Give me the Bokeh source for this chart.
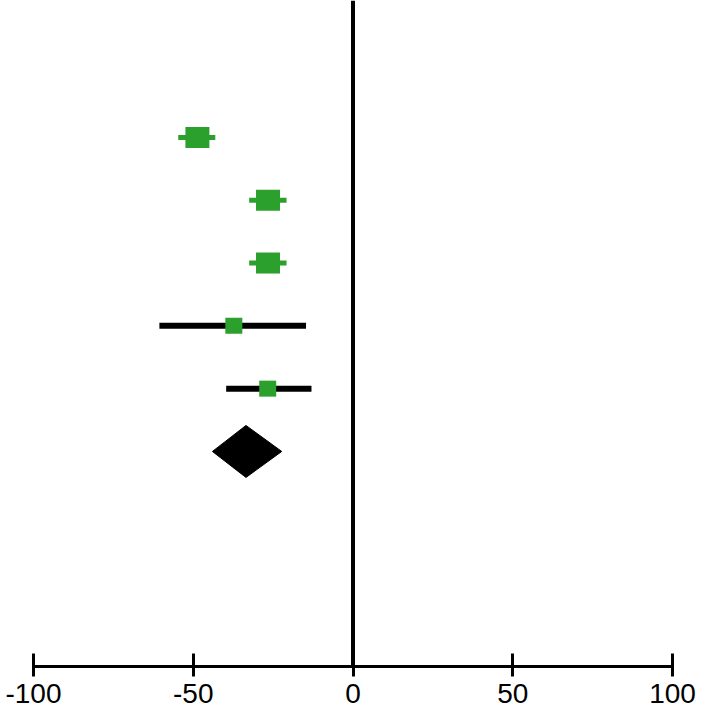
from bokeh.plotting import figure
from bokeh.models import Range1d, Span, FixedTicker
from bokeh.embed import file_html
from bokeh.resources import INLINE

# ---- data ----
study_rows = [1, 2, 3, 4, 5]
study_est = [-48.7, -26.6, -26.6, -37.3, -26.7]
study_lo = [-54.7, -32.5, -32.5, -60.6, -39.7]
study_hi = [-43.1, -20.8, -20.8, -14.7, -13.0]
pooled_row = 6
pooled_est = -33.5
pooled_lo = -44.0
pooled_hi = -22.3
x_ticks = [-100, -50, 0, 50, 100]
x_tick_labels = ["-100", "-50", "0", "50", "100"]

# ---- styles ----
GREEN = "#2ca02c"
box_w = [24, 24, 24, 17, 17]
box_h = [21, 21, 21, 16, 16]
ci_color = [GREEN, GREEN, GREEN, "black", "black"]
ci_width = [5, 5, 5, 6, 6]

p = figure(frame_width=700, frame_height=666, output_backend="svg", toolbar_location=None,
           x_range=Range1d(-110.33, 108.76), y_range=Range1d(9.424, -1.18),
           y_axis_location=None, min_border_left=0, min_border_right=0,
           min_border_top=0, min_border_bottom=45)
p.outline_line_color = None
p.grid.visible = False
p.background_fill_color = "white"
p.border_fill_color = "white"

p.add_layout(Span(location=0, dimension="height", line_color="black", line_width=4))

p.segment(x0=study_lo, y0=study_rows, x1=study_hi, y1=study_rows,
          line_color=ci_color, line_width=ci_width)
p.rect(x=study_est, y=study_rows, width=box_w, height=box_h,
       width_units="screen", height_units="screen",
       fill_color=GREEN, line_color=None)

half_h = 0.414
p.patch(x=[pooled_lo, pooled_est, pooled_hi, pooled_est],
        y=[pooled_row, pooled_row - half_h, pooled_row, pooled_row + half_h],
        fill_color="black", line_color="black")

ax = p.xaxis[0]
ax.ticker = FixedTicker(ticks=x_ticks)
ax.bounds = (x_ticks[0], x_ticks[-1])
ax.major_label_overrides = {t: s for t, s in zip(x_ticks, x_tick_labels)}
ax.axis_line_width = 3
ax.axis_line_color = "black"
ax.major_tick_line_width = 3
ax.major_tick_line_color = "black"
ax.major_tick_in = 13
ax.major_tick_out = 10
ax.minor_tick_line_color = None
ax.major_label_text_font = "Liberation Sans"
ax.major_label_text_font_size = "28px"
ax.major_label_text_color = "black"
ax.major_label_standoff = 7

open("out.html", "w").write(file_html(p, INLINE))
